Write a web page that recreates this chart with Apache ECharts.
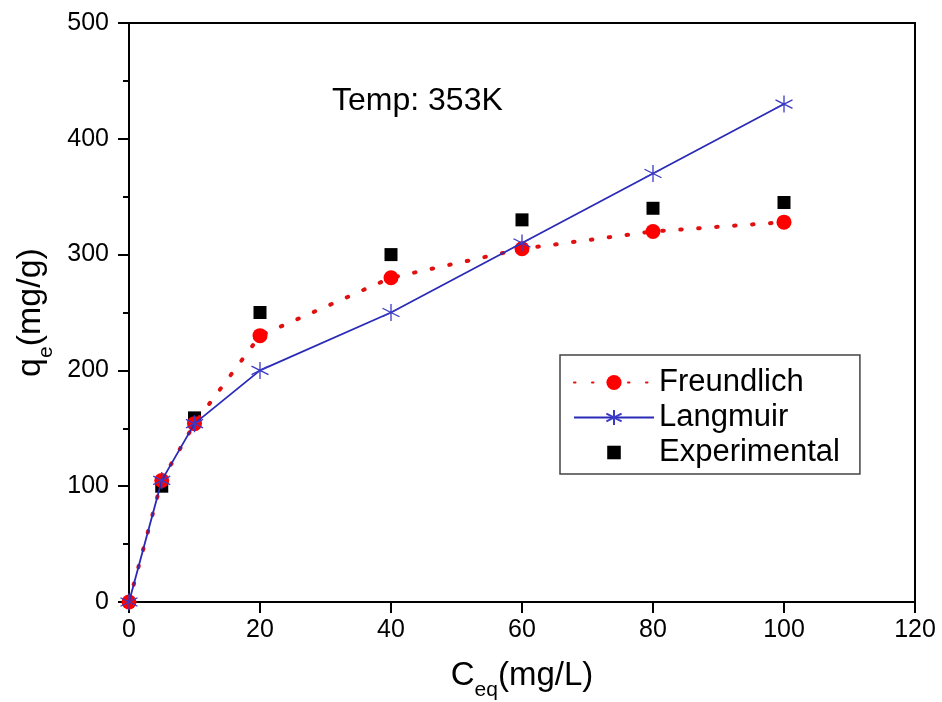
<!DOCTYPE html>
<html>
<head>
<meta charset="utf-8">
<script src="https://cdn.jsdelivr.net/npm/echarts@6/dist/echarts.min.js"></script>
<style>html,body{margin:0;padding:0;background:#fff;}#c{width:942px;height:702px;}</style>
</head>
<body>
<div id="c"></div>
<script>
const ceq = [0, 5, 10, 20, 40, 60, 80, 100];
const freundlich = [0, 105, 154, 230, 280, 305, 320, 328];
const langmuir = [0, 105, 154, 200, 250, 310, 370, 430];
const expX = [5, 10, 20, 40, 60, 80, 100];
const experimental = [100, 159, 250, 300, 330, 340, 345];
const xTicks = [0, 20, 40, 60, 80, 100, 120];
const yTicks = [0, 100, 200, 300, 400, 500];

const FONT = 'Liberation Sans, Arial, sans-serif';
const pair = (xs, ys) => xs.map((x, i) => [x, ys[i]]);
const asterisk = 'path://M0,-1L0,1M-0.87,-0.5L0.87,0.5M-0.87,0.5L0.87,-0.5';
const square = 'path://M-0.2,-0.2M1.2,1.2M0,0L1,0L1,1L0,1Z';

const chart = echarts.init(document.getElementById('c'));
chart.setOption({
  animation: false,
  backgroundColor: '#fff',
  textStyle: {fontFamily: FONT},
  grid: {left: 129, right: 27, top: 23, bottom: 100, outerBoundsMode: 'none', containLabel: false,
         show: true, borderColor: '#000', borderWidth: 2, backgroundColor: 'transparent'},
  xAxis: {
    type: 'value', min: xTicks[0], max: xTicks[xTicks.length - 1], interval: 20,
    axisLine: {lineStyle: {color: '#000', width: 2}},
    axisTick: {inside: false, length: 11, lineStyle: {color: '#000', width: 2}},
    axisLabel: {color: '#000', fontSize: 25, margin: 16, fontFamily: FONT},
    splitLine: {show: false},
    name: '{a|C}{s|eq}{a|(mg/L)}', nameLocation: 'middle', nameGap: 52,
    nameTextStyle: {rich: {
      a: {fontSize: 33, color: '#000', fontFamily: FONT, lineHeight: 38, verticalAlign: 'bottom'},
      s: {fontSize: 21, color: '#000', fontFamily: FONT, lineHeight: 38, verticalAlign: 'bottom', padding: [0, 0, -9, 0]}
    }}
  },
  yAxis: {
    type: 'value', min: yTicks[0], max: yTicks[yTicks.length - 1], interval: 100,
    axisLine: {lineStyle: {color: '#000', width: 2}},
    axisTick: {inside: false, length: 11, lineStyle: {color: '#000', width: 2}},
    minorTick: {show: true, splitNumber: 2, length: 6, lineStyle: {color: '#000', width: 2}},
    axisLabel: {color: '#000', fontSize: 25, margin: 20, fontFamily: FONT},
    splitLine: {show: false},
    name: '{a|q}{s|e}{a|(mg/g)}', nameLocation: 'middle', nameGap: 72,
    nameTextStyle: {rich: {
      a: {fontSize: 34, color: '#000', fontFamily: FONT, lineHeight: 38, verticalAlign: 'bottom'},
      s: {fontSize: 21, color: '#000', fontFamily: FONT, lineHeight: 38, verticalAlign: 'bottom', padding: [0, 0, -9, 0]}
    }}
  },
  legend: {
    orient: 'vertical', left: 560, top: 355,
    padding: [10, 20, 4, 13],
    itemWidth: 80, itemHeight: 19, itemGap: 0,
    symbolKeepAspect: true,
    borderColor: '#444', borderWidth: 1.5, backgroundColor: '#fff',
    textStyle: {fontSize: 31, color: '#000', fontFamily: FONT, lineHeight: 35},
    data: ['Freundlich', 'Langmuir', {name: 'Experimental', icon: square, itemStyle: {color: '#000'}}]
  },
  graphic: [{
    type: 'text', left: 332, top: 85,
    style: {text: 'Temp: 353K', fontSize: 32, fill: '#000', fontFamily: FONT}
  }],
  series: [
    {
      name: 'Experimental', type: 'scatter', data: pair(expX, experimental),
      symbol: 'rect', symbolSize: 13, itemStyle: {color: '#000', opacity: 1}, z: 2
    },
    {
      name: 'Freundlich', type: 'line', data: pair(ceq, freundlich),
      symbol: 'circle', symbolSize: 15, showAllSymbol: true,
      itemStyle: {color: '#ff0000'},
      lineStyle: {color: '#e01010', width: 4, type: [1.5, 16.5], cap: 'round'}, z: 3
    },
    {
      name: 'Langmuir', type: 'line', data: pair(ceq, langmuir),
      symbol: asterisk, symbolSize: 17, showAllSymbol: true,
      itemStyle: {color: 'rgba(0,0,0,0)', borderColor: '#3a3ac8', borderWidth: 1.3},
      lineStyle: {color: '#2a2ab8', width: 1.8}, z: 4
    }
  ]
});
</script>
</body>
</html>
